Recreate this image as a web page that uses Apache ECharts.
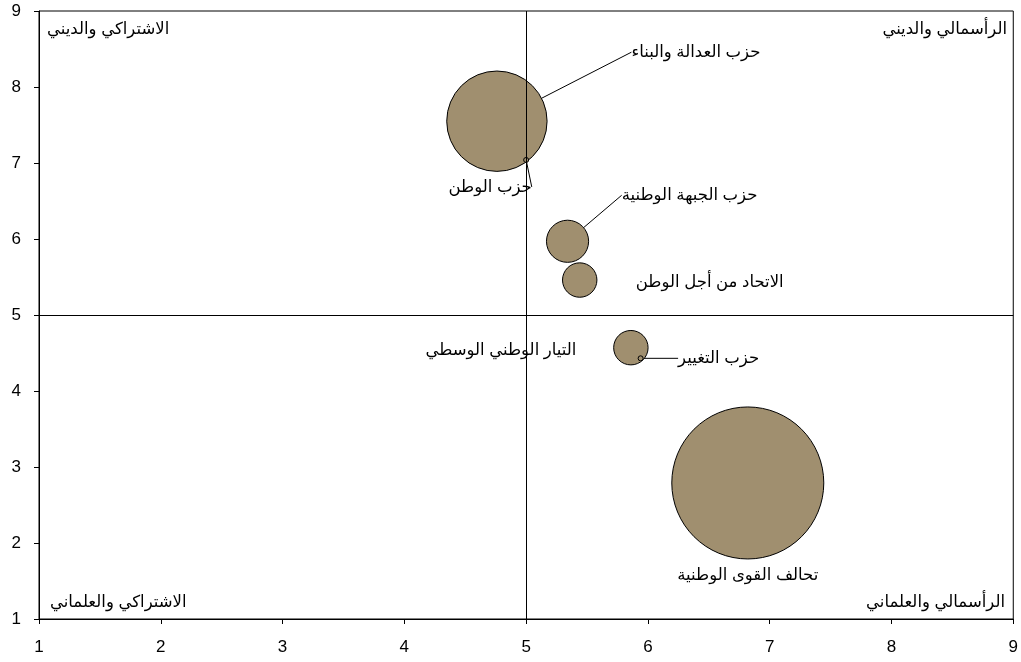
<!DOCTYPE html>
<html><head><meta charset="utf-8">
<script src="https://cdn.jsdelivr.net/npm/echarts@6/dist/echarts.min.js"></script>
<style>html,body{margin:0;padding:0;background:#fff}#c{width:1021px;height:662px}</style>
</head><body><div id="c"></div>
<script>
const parties = ['حزب العدالة والبناء','حزب الوطن','حزب الجبهة الوطنية','الاتحاد من أجل الوطن','التيار الوطني الوسطي','حزب التغيير','تحالف القوى الوطنية'];
const xValues = [4.76, 5.00, 5.34, 5.44, 5.86, 5.94, 6.82];
const yValues = [7.55, 7.04, 5.97, 5.46, 4.57, 4.43, 2.79];
const sizes   = [17, 0, 3, 2, 2, 0, 39];
const axisTicks = [1,2,3,4,5,6,7,8,9];
const quadrants = ['الاشتراكي والديني','الرأسمالي والديني','الاشتراكي والعلماني','الرأسمالي والعلماني'];

const FONT = "'Liberation Sans', Arial, 'DejaVu Sans', sans-serif";
const labelOffsets = [[199,-69,true],[-36,27,true],[122,-46,true],[130,2,false],[-130,3,false],[78,0,true],[0,92,false]];
const maxSize = Math.max(...sizes);

const data = parties.map((p,i)=>({
  name:p, value:[xValues[i], yValues[i], sizes[i]],
  labelLine:{show:labelOffsets[i][2]}
}));

const chart = echarts.init(document.getElementById('c'));
chart.setOption({
  animation:false,
  grid:{left:39,right:6,top:11,bottom:43,show:true,borderColor:'#000',borderWidth:1},
  xAxis:{type:'value',min:1,max:9,interval:1,
    axisLine:{show:true,onZero:false,lineStyle:{color:'#000'}},
    axisTick:{show:true,inside:false,length:5,lineStyle:{color:'#000'}},
    axisLabel:{color:'#000',fontSize:17,fontFamily:FONT,margin:20,formatter:v=>axisTicks.includes(v)?String(v):''},
    splitLine:{show:false}},
  yAxis:{type:'value',min:1,max:9,interval:1,
    axisLine:{show:true,onZero:false,lineStyle:{color:'#000'}},
    axisTick:{show:true,inside:false,length:5,lineStyle:{color:'#000'}},
    axisLabel:{color:'#000',fontSize:17,fontFamily:FONT,margin:18,formatter:v=>axisTicks.includes(v)?String(v):''},
    splitLine:{show:false}},
  series:[{
    type:'scatter',
    data:data,
    symbol:'circle',
    symbolSize:v=> v[2]>0 ? 152*Math.sqrt(v[2]/maxSize) : 5,
    itemStyle:{color:'#A08F6F',borderColor:'#000',borderWidth:1,opacity:1},
    label:{show:true,position:'inside',formatter:'{b}',color:'#000',fontSize:16.5,fontFamily:FONT},
    labelLine:{show:true,lineStyle:{color:'#000',width:1}},
    labelLayout:function(p){const o=labelOffsets[p.dataIndex];return {dx:o[0],dy:o[1]};},
    markLine:{silent:true,symbol:['none','none'],label:{show:false},
      lineStyle:{color:'#000',width:1,type:'solid'},
      data:[{xAxis:5},{yAxis:5}]},
    z:3
  }],
  graphic:[
    {type:'text',left:47,top:21,style:{text:quadrants[0],font:'16.5px '+FONT,fill:'#000'}},
    {type:'text',right:14,top:21,style:{text:quadrants[1],font:'16.5px '+FONT,fill:'#000'}},
    {type:'text',left:50,top:594,style:{text:quadrants[2],font:'16.5px '+FONT,fill:'#000'}},
    {type:'text',right:16,top:594,style:{text:quadrants[3],font:'16.5px '+FONT,fill:'#000'}}
  ]
});
</script></body></html>
